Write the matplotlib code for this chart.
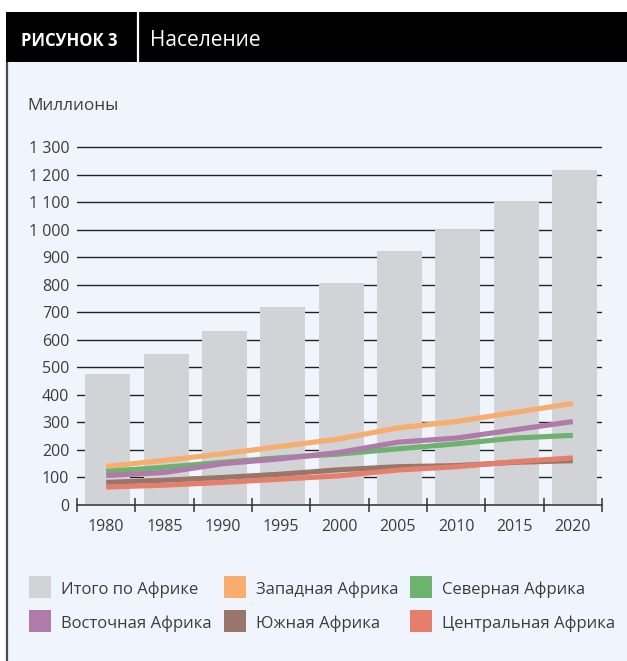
import matplotlib
matplotlib.use("Agg")
import matplotlib.pyplot as plt
from matplotlib.patches import Rectangle
from matplotlib.lines import Line2D
from matplotlib.ticker import FuncFormatter, FixedLocator
import numpy as np

# ---------------- data ----------------
years = ["1980", "1985", "1990", "1995", "2000", "2005", "2010", "2015", "2020"]
total_africa = [476, 550, 633, 718, 806, 924, 1000, 1104, 1216]
west_africa = [140, 162, 186, 213, 240, 280, 303, 336, 369]
north_africa = [122, 137, 155, 172, 185, 204, 222, 243, 253]
east_africa = [107, 118, 150, 168, 191, 228, 243, 273, 303]
south_africa = [82, 90, 100, 112, 128, 139, 143, 155, 161]
central_africa = [65, 72, 82, 94, 106, 127, 139, 157, 171]

labels = ["Итого по Африке", "Западная Африка", "Северная Африка",
          "Восточная Африка", "Южная Африка", "Центральная Африка"]
title_tag = "РИСУНОК 3"
title_text = "Население"
y_label = "Миллионы"
y_ticks = [0, 100, 200, 300, 400, 500, 600, 700, 800, 900, 1000, 1100, 1200, 1300]

# ---------------- style ----------------
W, H = 627, 661
BG = "#F0F5FD"
BAR = "#D1D3D6"
C_WEST = "#F7AD6E"
C_NORTH = "#6DB26F"
C_EAST = "#B07AAA"
C_SOUTH = "#98776A"
C_CENT = "#E57F6B"
TXT = "#3C3C3C"
FONT = ["Open Sans", "DejaVu Sans"]
plt.rcParams["font.family"] = FONT

fig = plt.figure(figsize=(W / 100, H / 100), dpi=100)
fig.patch.set_facecolor("white")


def fx(x):
    return x / W


def fy(y):
    return 1 - y / H


# light panel background
fig.add_artist(Rectangle((fx(6), 0), fx(W) - fx(6), fy(62), transform=fig.transFigure,
                         facecolor=BG, edgecolor="none", zorder=0))
# left border
fig.add_artist(Line2D([fx(7), fx(7)], [0, fy(62)], transform=fig.transFigure,
                      color="#4A4A4A", lw=1.6, zorder=1))
# header band
fig.add_artist(Rectangle((fx(6), fy(62)), fx(W) - fx(6), fy(12) - fy(62),
                         transform=fig.transFigure, facecolor="black",
                         edgecolor="none", zorder=1))
fig.add_artist(Line2D([fx(138), fx(138)], [fy(62), fy(12)], transform=fig.transFigure,
                      color="white", lw=1.6, zorder=2))
fig.text(fx(21), fy(45.5), title_tag, color="white", fontsize=12, fontweight="bold",
         va="baseline", ha="left", zorder=3)
fig.text(fx(150), fy(46), title_text, color="white", fontsize=15,
         va="baseline", ha="left", zorder=3)
fig.text(fx(27), fy(109.5), y_label, color=TXT, fontsize=12.3,
         va="baseline", ha="left", zorder=3)

# ---------------- axes ----------------
x_left, x_right = 77, 602
y_zero, y_1300 = 505, 147
top_px = 138
ymax = 1300 * (y_zero - top_px) / (y_zero - y_1300)
ax = fig.add_axes([fx(x_left), fy(y_zero), fx(x_right) - fx(x_left), fy(top_px) - fy(y_zero)])
ax.set_facecolor("none")
ax.patch.set_alpha(0)

x = np.arange(len(years))
ax.bar(x + 0.03, total_africa, width=0.77, color=BAR, zorder=2)
series = [(west_africa, C_WEST), (north_africa, C_NORTH), (east_africa, C_EAST),
          (south_africa, C_SOUTH), (central_africa, C_CENT)]
for vals, col in series:
    ax.plot(x, vals, color=col, lw=3.7, solid_capstyle="butt", solid_joinstyle="round",
            zorder=3)

ax.set_xlim(-0.5, len(years) - 0.5)
ax.set_ylim(0, ymax)
ax.set_yticks(y_ticks)
ax.yaxis.set_major_formatter(FuncFormatter(lambda v, p: f"{int(v):,}".replace(",", " ")))
ax.tick_params(axis="y", length=0, pad=5.5, labelsize=11.5, labelcolor=TXT)
ax.grid(axis="y", color="#222222", lw=1.0, zorder=1)
ax.set_axisbelow(True)

ax.xaxis.set_major_locator(FixedLocator(np.arange(len(years) + 1) - 0.5))
ax.xaxis.set_minor_locator(FixedLocator(x))
ax.set_xticklabels([""] * (len(years) + 1))
ax.set_xticklabels(years, minor=True)
ax.tick_params(axis="x", which="major", direction="inout", length=10, width=1.1,
               color="#333333")
ax.tick_params(axis="x", which="minor", length=0, pad=10, labelsize=11.5,
               labelcolor=TXT)

for s in ["top", "right", "left"]:
    ax.spines[s].set_visible(False)
ax.spines["bottom"].set_color("#333333")
ax.spines["bottom"].set_linewidth(1.1)
ax.spines["bottom"].set_zorder(4)

# ---------------- legend (manual) ----------------
colors = [BAR, C_WEST, C_NORTH, C_EAST, C_SOUTH, C_CENT]
col_x = [29, 224, 410]
row_y = [587, 621]
sw = 22
for i, (lab, c) in enumerate(zip(labels, colors)):
    cx = col_x[i % 3]
    cy = row_y[i // 3]
    fig.add_artist(Rectangle((fx(cx), fy(cy + sw / 2)), fx(sw), fy(0) - fy(sw),
                             transform=fig.transFigure, facecolor=c,
                             edgecolor="none", zorder=3))
    fig.text(fx(cx + sw + 10), fy(cy + 6.5), lab, color=TXT, fontsize=12,
             va="baseline", ha="left", zorder=3)

fig.savefig("out.png", dpi=100, facecolor="white")
